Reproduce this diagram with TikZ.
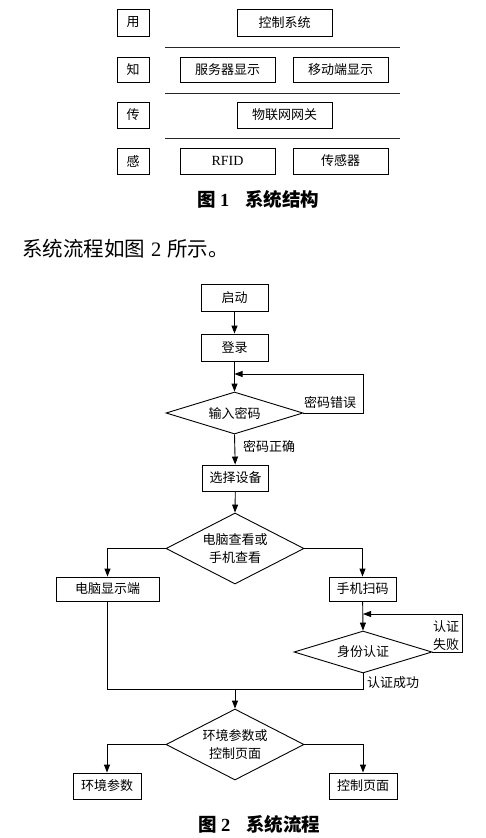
\documentclass[tikz,border=0pt]{standalone}
\usepackage{fontspec}
\setmainfont{Liberation Serif}
\newfontfamily\cjk{Noto Sans CJK SC}
\usetikzlibrary{shapes.geometric,arrows.meta}
\begin{document}
\begin{tikzpicture}[x=1pt,y=-1pt,
  every node/.style={font=\cjk\fontsize{13}{15}\selectfont, inner sep=0pt},
  box/.style={draw, line width=0.9pt, minimum height=26pt},
  dia/.style={draw, line width=0.9pt, diamond, aspect=2, align=center, font=\cjk\fontsize{13}{17.5}\selectfont},
  lbl/.style={align=center, font=\cjk\fontsize{13}{18}\selectfont},
  sep/.style={line width=0.9pt, black!85},
  conn/.style={line width=0.9pt},
  arr/.style={conn, -{Triangle[length=8pt,width=6pt]}},
  captxt/.style={font=\cjk\bfseries\fontsize{18.5}{20}\selectfont}]
\useasboundingbox (0,0) rectangle (486,838);
% ---------- Figure 1 ----------
\node[box, minimum width=32pt, minimum height=27pt] (yong) at (133,22.5) {用};
\node[box, minimum width=95pt, minimum height=27pt] (kzxt) at (284.5,22.5) {控制系统};
\draw[sep] (165,47) -- (400,47);
\node[box, minimum width=32pt, minimum height=25pt] (zhi) at (133,69.5) {知};
\node[box, minimum width=95pt, minimum height=25pt] (fwq) at (227.5,69.5) {服务器显示};
\node[box, minimum width=95pt, minimum height=25pt] (ydd) at (340.5,69.5) {移动端显示};
\draw[sep] (165,93) -- (400,93);
\node[box, minimum width=32pt] (chuan) at (133,115) {传};
\node[box, minimum width=95pt] (wlw) at (284.5,115) {物联网网关};
\draw[sep] (165,138) -- (400,138);
\node[box, minimum width=32pt] (gan) at (133,161) {感};
\node[box, minimum width=95pt] (rfid) at (227.5,161) {\rmfamily\fontsize{14}{16}\selectfont RFID};
\node[box, minimum width=95pt] (cgq) at (340.5,161) {传感器};
\node[captxt] (cap1) at (258.5,199) {图\hspace{4pt}{\rmfamily\bfseries 1}\hspace{16pt}系统结构};
% ---------- paragraph ----------
\node[anchor=west, font=\cjk\fontsize{20.5}{22}\selectfont] (para) at (22,249) {系统流程如图\hspace{6pt}{\rmfamily 2}\hspace{6pt}所示。};
% ---------- Figure 2 ----------
\node[box, minimum width=67pt, minimum height=27pt] (qd) at (234.5,297.5) {启动};
\node[box, minimum width=67pt, minimum height=27pt] (dl) at (234.5,347.5) {登录};
\node[dia, minimum width=137pt, minimum height=42pt] (d1) at (234.5,413) {输入密码};
\node[box, minimum width=66pt] (xzsb) at (235.5,478) {选择设备};
\node[dia, minimum width=138pt, minimum height=71pt] (d2) at (235,548.5) {电脑查看或\\手机查看};
\node[box, minimum width=103pt, minimum height=24pt] (dnxs) at (107.5,589) {电脑显示端};
\node[box, minimum width=67pt, minimum height=24pt] (sjsm) at (362.5,589) {手机扫码};
\node[dia, minimum width=138pt, minimum height=42pt] (d3) at (363,652) {身份认证};
\node[dia, minimum width=138pt, minimum height=71pt] (d4) at (235,744.5) {环境参数或\\控制页面};
\node[box, minimum width=68pt] (hjcs) at (107,786) {环境参数};
\node[box, minimum width=68pt] (kzym) at (363,786) {控制页面};
\node[captxt] (cap2) at (259.5,824) {图\hspace{4pt}{\rmfamily\bfseries 2}\hspace{16pt}系统流程};
% labels
\node[anchor=west] (l1) at (304,403) {密码错误};
\node[anchor=west] (l2) at (243,446) {密码正确};
\node[lbl] (l3) at (446,636) {认证\\失败};
\node[anchor=west] (l4) at (367,683) {认证成功};
% coordinates
\coordinate (r1) at (363,374);
\coordinate (j1) at (234.5,374);
\coordinate (r2) at (462,614);
\coordinate (j2) at (363,614);
\coordinate (m) at (235,689);
% connectors
\draw[arr] (qd) -- (dl);
\draw[arr] (dl) -- (d1.north);
\draw[arr] (d1.east) -| (r1) -- (j1);
\draw[arr] (d1.south) -- (xzsb);
\draw[arr] (xzsb) -- (d2.north);
\draw[arr] (d2.west) -| (dnxs.north);
\draw[arr] (d2.east) -| (sjsm.north);
\draw[arr] (sjsm) -- (d3.north);
\draw[arr] (d3.east) -| (r2) -- (j2);
\draw[conn] (dnxs.south) |- (m);
\draw[conn] (d3.south) |- (m);
\draw[arr] (m) -- (d4.north);
\draw[arr] (d4.west) -| (hjcs.north);
\draw[arr] (d4.east) -| (kzym.north);
\end{tikzpicture}
\end{document}
